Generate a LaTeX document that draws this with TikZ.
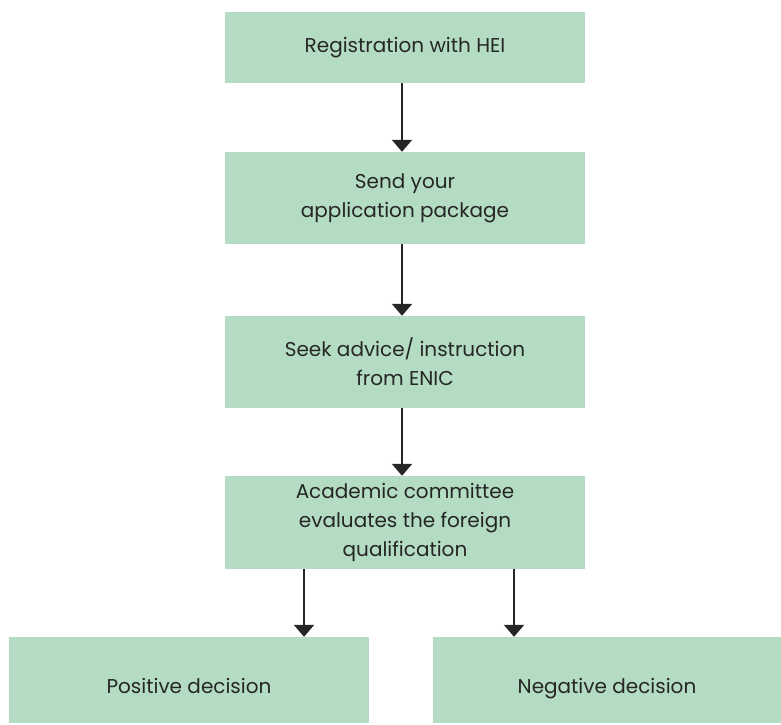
\documentclass[tikz,border=0pt]{standalone}
\usepackage{fontspec}
\setmainfont{Poppins}
\usetikzlibrary{arrows.meta, calc}
\definecolor{boxgreen}{HTML}{B3DCC2}
\definecolor{txtgrey}{HTML}{262626}
\begin{document}
\begin{tikzpicture}[x=1pt,y=1pt,
    stepbox/.style={fill=boxgreen, minimum width=360pt, inner sep=0pt, align=center,
        text=txtgrey, font=\fontsize{20}{29}\selectfont},
    arr/.style={line width=2.2pt, draw=txtgrey, -{Triangle[length=12pt,width=20pt]}}]
    \useasboundingbox (0,0) rectangle (781,-724);
    \node[stepbox, minimum height=71pt] (reg) at (405,-47.5) {Registration with HEI};
    \node[stepbox, minimum height=92pt] (send) at (405,-198) {Send your\\application package};
    \node[stepbox, minimum height=92pt] (seek) at (405,-362) {Seek advice/ instruction\\from ENIC};
    \node[stepbox, minimum height=93pt] (acad) at (405,-522.5) {Academic committee\\evaluates the foreign\\qualification};
    \node[stepbox, minimum height=86pt] (pos) at (189,-680) {\raisebox{-13pt}[0pt][0pt]{Positive decision}};
    \node[stepbox, minimum height=86pt, minimum width=348pt] (neg) at (607,-680) {\raisebox{-13pt}[0pt][0pt]{Negative decision}};
    \draw[arr] ([xshift=-3pt]reg.south) -- ([xshift=-3pt]reg.south |- send.north);
    \draw[arr] ([xshift=-3pt]send.south) -- ([xshift=-3pt]send.south |- seek.north);
    \draw[arr] ([xshift=-3pt]seek.south) -- ([xshift=-3pt]seek.south |- acad.north);
    \draw[arr] ([xshift=-101pt]acad.south) -- ([xshift=-101pt]acad.south |- pos.north);
    \draw[arr] ([xshift=109pt]acad.south) -- ([xshift=109pt]acad.south |- neg.north);
\end{tikzpicture}
\end{document}
